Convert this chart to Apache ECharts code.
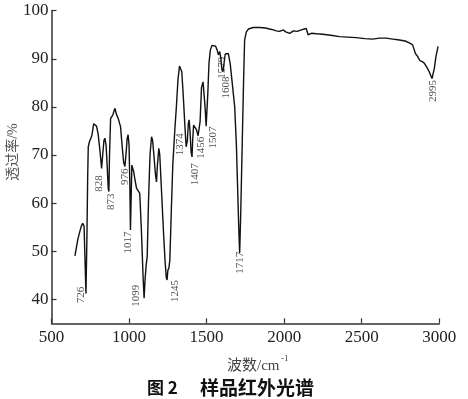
<!DOCTYPE html>
<html lang="zh">

<head>
    <meta charset="UTF-8">
    <style>
        html, body { margin: 0; padding: 0; background: #fff; }
        #main { width: 468px; height: 399px; }
    </style>
    <title>样品红外光谱</title>
</head>

<body>
    <div id="main"></div>

    <script src="https://cdn.jsdelivr.net/npm/echarts@6/dist/echarts.min.js"></script>
    <script>
        // 波数 (cm-1) 与 透过率 (%)
        var wavenumber = [651, 670, 690, 701, 710, 715, 722, 728, 733, 737, 745, 760, 772, 780, 790, 800, 812, 823, 830, 838, 844, 852, 860, 866, 870, 874, 881, 895, 909, 918, 930, 945, 955, 965, 973, 980, 988, 994, 1000, 1005, 1009, 1014, 1018, 1022, 1030, 1040, 1048, 1060, 1069, 1080, 1090, 1097, 1103, 1110, 1117, 1125, 1135, 1145, 1152, 1160, 1170, 1177, 1183, 1192, 1198, 1210, 1222, 1232, 1240, 1245, 1250, 1257, 1263, 1272, 1282, 1295, 1305, 1315, 1325, 1331, 1340, 1350, 1360, 1368, 1376, 1382, 1387, 1393, 1400, 1406, 1410, 1416, 1425, 1435, 1445, 1451, 1458, 1467, 1477, 1483, 1490, 1497, 1503, 1508, 1515, 1524, 1535, 1546, 1558, 1568, 1576, 1584, 1590, 1598, 1606, 1612, 1620, 1627, 1640, 1652, 1665, 1681, 1692, 1700, 1708, 1713, 1720, 1730, 1738, 1745, 1756, 1770, 1800, 1842, 1880, 1906, 1930, 1949, 1960, 1970, 1981, 1995, 2010, 2035, 2060, 2085, 2110, 2142, 2152, 2154, 2160, 2175, 2210, 2249, 2300, 2357, 2410, 2464, 2520, 2571, 2613, 2657, 2700, 2743, 2780, 2807, 2828, 2846, 2860, 2875, 2890, 2903, 2920, 2935, 2953, 2961, 2968, 2978, 2992];
        var transmittance = [49.0, 52.5, 55.0, 55.8, 55.2, 54.8, 41.2, 52.0, 65.0, 71.7, 72.8, 74.0, 76.5, 76.9, 76.0, 74.5, 71.0, 67.2, 70.0, 73.0, 73.5, 72.0, 67.0, 63.0, 62.4, 70.0, 77.6, 78.3, 79.7, 78.5, 77.6, 75.9, 72.0, 68.5, 67.6, 70.0, 73.5, 74.2, 72.0, 64.0, 54.4, 62.0, 67.9, 68.0, 66.5, 64.5, 63.1, 62.8, 62.0, 54.0, 45.0, 40.2, 44.0, 47.0, 48.9, 60.0, 70.0, 73.8, 73.0, 70.0, 66.0, 64.4, 68.0, 71.4, 70.0, 62.0, 54.0, 48.0, 44.5, 44.0, 46.0, 46.5, 48.2, 58.0, 68.0, 75.2, 80.0, 85.5, 88.5, 88.7, 87.3, 82.0, 76.0, 71.7, 73.0, 76.5, 77.3, 75.0, 70.5, 69.6, 73.0, 76.2, 75.8, 75.2, 74.0, 73.8, 77.0, 84.0, 85.2, 84.8, 80.0, 76.0, 75.9, 83.0, 89.0, 91.8, 92.8, 93.2, 92.6, 91.8, 90.8, 91.5, 90.5, 88.0, 87.3, 89.0, 91.0, 91.3, 91.1, 89.0, 85.0, 80.0, 72.0, 63.0, 54.0, 49.6, 58.0, 73.1, 85.0, 93.9, 95.6, 96.2, 96.5, 96.5, 96.4, 96.2, 96.0, 95.8, 96.0, 95.7, 95.3, 96.0, 95.6, 95.3, 95.8, 95.7, 96.0, 96.3, 96.6, 95.0, 95.4, 95.3, 95.2, 95.1, 94.9, 94.6, 94.5, 94.4, 94.2, 94.1, 94.3, 94.3, 94.1, 93.9, 93.7, 93.3, 92.9, 91.1, 90.5, 89.6, 89.4, 89.1, 88.2, 87.3, 85.9, 85.6, 88.0, 90.4, 92.6];

        // 峰位标注：文字、标注位置(文字上端)
        var peakNames = ['726', '828', '873', '976', '1017', '1099', '1245', '1374', '1407', '1456', '1507', '1579', '1608', '1717', '2995'];
        var peakLabelX = [688, 808, 887, 973, 994, 1044, 1295, 1327, 1423, 1466, 1541, 1602, 1627, 1713, 2957];
        var peakLabelY = [42.6, 65.8, 62.0, 67.2, 54.1, 43.0, 44.0, 74.5, 68.3, 73.8, 75.9, 90.4, 86.3, 49.9, 85.6];

        var xTicks = [500, 1000, 1500, 2000, 2500, 3000];
        var yTicks = [40, 50, 60, 70, 80, 90, 100];

        var serif = '"Liberation Serif", "Noto Sans CJK SC", serif';

        var lineData = [];
        for (var i = 0; i < wavenumber.length; i++) {
            lineData.push([wavenumber[i], transmittance[i]]);
        }
        var peakData = [];
        for (var j = 0; j < peakNames.length; j++) {
            peakData.push({ name: peakNames[j], value: [peakLabelX[j], peakLabelY[j]] });
        }

        var myChart = echarts.init(document.getElementById('main'));

        var option = {
            animation: false,
            backgroundColor: '#fff',
            grid: {
                left: 51.5,
                right: 28.7,
                top: 10.7,
                bottom: 75.7
            },
            xAxis: {
                type: 'value',
                min: xTicks[0],
                max: xTicks[xTicks.length - 1],
                interval: 500,
                splitLine: { show: false },
                axisLine: { lineStyle: { color: '#333', width: 1.5 } },
                axisTick: { inside: true, length: 5, lineStyle: { color: '#333', width: 1.2 } },
                axisLabel: {
                    color: '#222', fontSize: 17, fontFamily: serif, margin: 6,
                    formatter: function (v) { return String(v); }
                }
            },
            yAxis: {
                type: 'value',
                min: 35,
                max: 100,
                splitLine: { show: false },
                axisLine: { show: true, lineStyle: { color: '#333', width: 1.5 } },
                axisTick: { show: true, inside: true, length: 5, customValues: yTicks, lineStyle: { color: '#333', width: 1.2 } },
                axisLabel: { color: '#222', fontSize: 17, fontFamily: serif, margin: 3, customValues: yTicks }
            },
            graphic: [
                {
                    type: 'text', x: 13, y: 152, rotation: Math.PI / 2,
                    style: { text: '透过率/%', font: '14px ' + serif, fill: '#555', textAlign: 'center', textVerticalAlign: 'middle' }
                },
                {
                    type: 'text', x: 227, y: 366,
                    style: { text: '波数/cm', font: '15px ' + serif, fill: '#444', textAlign: 'left', textVerticalAlign: 'middle' }
                },
                {
                    type: 'text', x: 281, y: 359,
                    style: { text: '-1', font: '9px ' + serif, fill: '#444', textAlign: 'left', textVerticalAlign: 'middle' }
                },
                {
                    type: 'text', x: 147, y: 388,
                    style: { text: '图 2', font: 'bold 17px "Noto Sans CJK SC"', fill: '#111', textAlign: 'left', textVerticalAlign: 'middle' }
                },
                {
                    type: 'text', x: 200, y: 388,
                    style: { text: '样品红外光谱', font: 'bold 19px "Noto Sans CJK SC"', fill: '#111', textAlign: 'left', textVerticalAlign: 'middle' }
                }
            ],
            series: [{
                type: 'line',
                data: lineData,
                showSymbol: false,
                smooth: false,
                lineStyle: { color: '#111', width: 1.4 },
                z: 3
            }, {
                type: 'scatter',
                data: peakData,
                symbolSize: 0,
                label: {
                    show: true,
                    position: [0, 0],
                    rotate: 90,
                    align: 'right',
                    verticalAlign: 'middle',
                    formatter: '{b}',
                    color: '#222',
                    fontSize: 11,
                    fontFamily: serif
                },
                z: 4
            }]
        };

        myChart.setOption(option);
    </script>
</body>

</html>
